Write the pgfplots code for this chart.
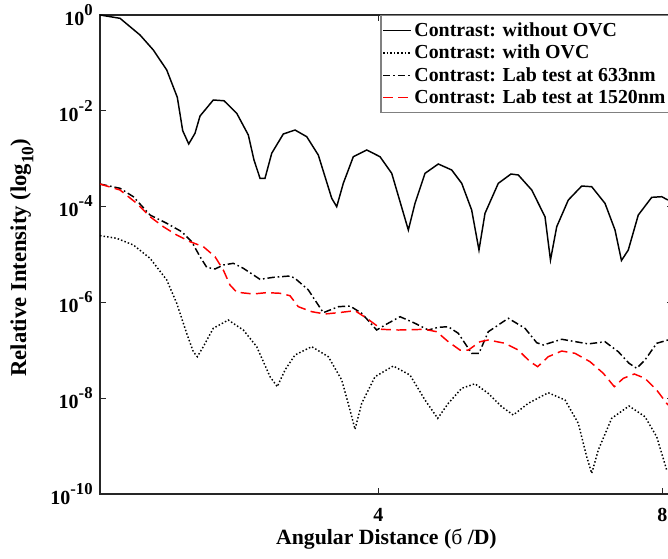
\documentclass[border=0pt]{standalone}
\usepackage{fontspec}
\setmainfont{Liberation Serif}
\usepackage{pgfplots}
\pgfplotsset{compat=1.18}

\definecolor{axisgray}{gray}{0.15}
\definecolor{boxgray}{gray}{0.5}
% power-of-ten tick label, bold serif
\newcommand\tp[1]{10\raisebox{0.5em}{\fontsize{12.5}{12.5}\selectfont #1}}

\begin{document}
\begin{tikzpicture}
\begin{axis}[
    width=429.7pt, height=359.25pt,
    scale only axis,
    ymode=log, log basis y=10,
    xmin=0.08, xmax=8.15,
    ymin=1e-10, ymax=1,
    xtick={4,8},
    xticklabels={4,8},
    ytick={1e-10,1e-8,1e-6,1e-4,1e-2,1},
    yticklabels={\tp{-10},\tp{-8},\tp{-6},\tp{-4},\tp{-2},\tp{0}},
    yminorticks=false,
    tick label style={font=\fontsize{15}{17}\selectfont\bfseries},
    xticklabel style={anchor=base, yshift=-20.8pt},
    yticklabel style={xshift=-2pt},
    label style={font=\fontsize{16.3}{18}\selectfont\bfseries},
    xlabel={Angular Distance (\textmd{б} /D)},
    ylabel={Relative Intensity (log\raisebox{-0.32em}{\fontsize{13}{13}\selectfont 10})},
    xlabel style={at={(axis description cs:0.5,0)}, anchor=base, yshift=-38.25pt},
    ylabel style={at={(axis description cs:-0.1361,0.493)}, anchor=center,
                  font=\fontsize{17}{19}\selectfont\bfseries},
    axis line style={axisgray, line width=0.8pt},
    every tick/.style={axisgray, line width=0.8pt},
    major tick length=4.5pt,
    legend style={
        font=\fontsize{14.9}{17}\selectfont\bfseries,
        draw=boxgray, line width=0.8pt,
        at={(rel axis cs:0.4895,1)}, anchor=north west,
        inner xsep=1pt, inner ysep=3.5pt,
        row sep=0.9pt,
        cells={anchor=west},
    },
    legend image code/.code={\draw[#1] (0pt,0pt) -- (21pt,0pt);},
    ]

\addplot[black, line width=1.1pt] coordinates {
(0.080,1) (0.362,0.853) (0.644,0.382) (0.831,0.186) (1.020,0.0711)
(1.169,0.0191) (1.245,3.84e-3) (1.330,2.03e-3) (1.418,3.39e-3) (1.489,7.79e-3)
(1.676,0.0168) (1.827,0.0162) (2.006,8.87e-3) (2.169,3.13e-3) (2.249,9.4e-4)
(2.334,3.90e-4) (2.404,3.90e-4) (2.499,1.30e-3) (2.662,3.28e-3) (2.827,3.97e-3)
(2.992,2.88e-3) (3.155,1.19e-3) (3.344,1.49e-4) (3.414,9.95e-5) (3.507,3.06e-4)
(3.648,1.10e-3) (3.837,1.52e-3) (4.024,1.10e-3) (4.189,4.95e-4) (4.423,3.25e-5)
(4.517,1.17e-4) (4.658,4.95e-4) (4.845,7.75e-4) (5.034,5.81e-4) (5.175,3.06e-4)
(5.315,8.49e-5) (5.418,1.24e-5) (5.503,7.24e-5) (5.690,3.06e-4) (5.869,4.79e-4)
(5.972,4.57e-4) (6.161,2.22e-4) (6.348,6.15e-5) (6.425,7.67e-6) (6.513,3.80e-5)
(6.676,1.37e-4) (6.865,2.69e-4) (7.006,2.60e-4) (7.193,1.17e-4) (7.334,3.25e-5)
(7.425,7.50e-6) (7.521,1.24e-5) (7.662,6.68e-5) (7.851,1.56e-4) (7.992,1.61e-4)
(8.080,1.37e-4)
};
\addlegendentry{Contrast: without OVC}

\addplot[black, line width=1.1pt, dash pattern=on 1.1pt off 1.6pt] coordinates {
(0.080,2.47e-5) (0.315,2.18e-5) (0.549,1.58e-5) (0.785,8.33e-6) (1.020,2.94e-6)
(1.161,9.57e-7) (1.301,2.26e-7) (1.394,9.35e-8) (1.451,7.35e-8) (1.535,1.19e-7)
(1.676,2.88e-7) (1.887,4.29e-7) (2.099,2.65e-7) (2.287,1.19e-7) (2.475,2.81e-8)
(2.577,1.74e-8) (2.686,3.88e-8) (2.827,7.98e-8) (3.062,1.19e-7) (3.296,7.35e-8)
(3.485,2.40e-8) (3.601,5.68e-9) (3.672,2.24e-9) (3.766,7.83e-9) (3.954,2.81e-8)
(4.211,4.70e-8) (4.446,3.05e-8) (4.658,9.17e-9) (4.837,3.80e-9) (4.986,7.83e-9)
(5.175,1.61e-8) (5.362,2.00e-8) (5.549,1.26e-8) (5.738,6.65e-9) (5.901,4.46e-9)
(6.113,7.83e-9) (6.394,1.30e-8) (6.630,9.17e-9) (6.817,2.99e-9) (6.935,6.01e-10)
(7.006,2.70e-10) (7.099,8.30e-10) (7.287,3.80e-9) (7.531,6.87e-9) (7.756,4.11e-9)
(7.921,1.57e-9) (8.062,3.17e-10)
};
\addlegendentry{Contrast: with OVC}

\addplot[black, line width=1.1pt, dash pattern=on 5.5pt off 2.2pt on 1.2pt off 2.2pt] coordinates {
(0.080,2.96e-4) (0.362,2.41e-4) (0.549,1.61e-4) (0.785,6.68e-5) (1.020,4.48e-5)
(1.231,2.99e-5) (1.372,1.85e-5) (1.489,9.0e-6) (1.583,5.41e-6) (1.700,4.98e-6)
(1.817,6.04e-6) (1.958,6.55e-6) (2.099,5.15e-6) (2.334,3.03e-6) (2.521,3.34e-6)
(2.756,3.56e-6) (2.827,3.18e-6) (3.014,1.82e-6) (3.225,6.10e-7) (3.437,8.13e-7)
(3.601,8.41e-7) (3.766,5.92e-7) (3.977,2.65e-7) (4.094,3.37e-7) (4.306,5.03e-7)
(4.517,3.66e-7) (4.704,2.65e-7) (4.845,3.02e-7) (4.986,3.11e-7) (5.127,2.26e-7)
(5.315,8.65e-8) (5.418,8.65e-8) (5.549,2.44e-7) (5.831,4.66e-7) (6.066,2.88e-7)
(6.231,1.44e-7) (6.324,1.29e-7) (6.583,1.70e-7) (6.958,1.36e-7) (7.193,1.51e-7)
(7.380,9.35e-8) (7.531,5.36e-8) (7.639,4.21e-8) (7.756,6.27e-8) (7.921,1.40e-7)
(8.080,1.64e-7)
};
\addlegendentry{Contrast: Lab test at 633nm}

\addplot[red, line width=1.1pt, dash pattern=on 7.5pt off 4pt] coordinates {
(0.080,2.96e-4) (0.362,2.22e-4) (0.597,1.17e-4) (0.785,6.15e-5) (0.972,3.80e-5)
(1.161,2.55e-5) (1.348,1.85e-5) (1.535,1.46e-5) (1.700,9.0e-6) (1.817,4.74e-6)
(1.911,2.31e-6) (2.006,1.63e-6) (2.239,1.50e-6) (2.428,1.60e-6) (2.615,1.55e-6)
(2.756,1.38e-6) (2.873,8.13e-7) (3.062,6.40e-7) (3.249,5.73e-7) (3.437,6.10e-7)
(3.672,6.71e-7) (3.837,4.66e-7) (4.048,2.74e-7) (4.282,2.65e-7) (4.658,2.74e-7)
(4.823,2.44e-7) (4.986,1.51e-7) (5.151,1.01e-7) (5.268,1.01e-7) (5.432,1.51e-7)
(5.549,1.64e-7) (5.785,1.40e-7) (5.972,1.01e-7) (6.137,5.78e-8) (6.245,4.55e-8)
(6.394,7.35e-8) (6.583,9.66e-8) (6.770,8.65e-8) (6.982,5.78e-8) (7.169,3.31e-8)
(7.324,1.74e-8) (7.451,2.60e-8) (7.606,3.20e-8) (7.756,2.60e-8) (7.921,1.48e-8)
(8.080,7.21e-9)
};
\addlegendentry{Contrast: Lab test at 1520nm}

\end{axis}
\pgfresetboundingbox
\path[use as bounding box]
    ([xshift=-75pt, yshift=-48.75pt]current axis.south west)
    rectangle ([xshift=426pt, yshift=11.25pt]current axis.north west);
\end{tikzpicture}
\end{document}
